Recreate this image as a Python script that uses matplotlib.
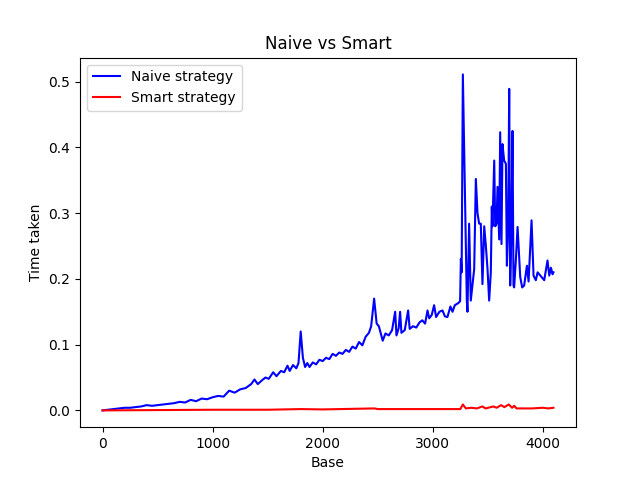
import matplotlib
matplotlib.use("Agg")
import matplotlib.pyplot as plt

naive_base = [0, 50, 100, 150, 200, 250, 300, 350, 400, 450, 500, 550, 600, 650, 700, 750,
              800, 850, 900, 950, 1000, 1050, 1100, 1150, 1200, 1250, 1300, 1350, 1380, 1410,
              1450, 1480, 1510, 1550, 1580, 1620, 1650, 1680, 1700, 1730, 1760, 1780, 1800,
              1820, 1840, 1860, 1880, 1910, 1940, 1970, 2000, 2030, 2060, 2090, 2120, 2150,
              2180, 2210, 2240, 2270, 2300, 2330, 2360, 2390, 2420, 2440, 2467, 2490, 2510,
              2545, 2570, 2600, 2630, 2658, 2670, 2690, 2703, 2715, 2745, 2776, 2790, 2820,
              2850, 2880, 2905, 2930, 2952, 2967, 2990, 3012, 3030, 3060, 3088, 3110, 3133,
              3160, 3179, 3200, 3230, 3248, 3255, 3262, 3273, 3309, 3315, 3330, 3345, 3360,
              3376, 3391, 3406, 3421, 3436, 3451, 3467, 3482, 3497, 3512, 3527, 3536, 3542,
              3558, 3567, 3579, 3588, 3603, 3612, 3624, 3633, 3648, 3664, 3673, 3685, 3694,
              3703, 3715, 3724, 3733, 3739, 3755, 3770, 3794, 3812, 3830, 3855, 3870, 3897,
              3915, 3936, 3952, 3982, 4012, 4042, 4058, 4073, 4088, 4096]
naive_time = [0.000, 0.001, 0.002, 0.003, 0.004, 0.004, 0.005, 0.006, 0.008, 0.007, 0.008,
              0.009, 0.010, 0.011, 0.013, 0.012, 0.016, 0.014, 0.018, 0.017, 0.020, 0.022,
              0.021, 0.030, 0.027, 0.032, 0.034, 0.040, 0.047, 0.040, 0.046, 0.050, 0.048,
              0.058, 0.052, 0.060, 0.058, 0.068, 0.060, 0.069, 0.064, 0.072, 0.120, 0.080,
              0.066, 0.072, 0.066, 0.073, 0.070, 0.077, 0.075, 0.080, 0.078, 0.086, 0.083,
              0.088, 0.086, 0.092, 0.089, 0.097, 0.094, 0.104, 0.099, 0.112, 0.118, 0.128,
              0.170, 0.132, 0.128, 0.106, 0.117, 0.114, 0.122, 0.150, 0.114, 0.125, 0.150,
              0.118, 0.122, 0.152, 0.124, 0.128, 0.126, 0.134, 0.137, 0.132, 0.152, 0.140,
              0.145, 0.160, 0.142, 0.150, 0.152, 0.143, 0.142, 0.158, 0.150, 0.160, 0.163,
              0.166, 0.230, 0.210, 0.511, 0.167, 0.150, 0.284, 0.167, 0.190, 0.215, 0.352,
              0.300, 0.284, 0.284, 0.192, 0.280, 0.250, 0.215, 0.167, 0.210, 0.310, 0.280,
              0.380, 0.280, 0.284, 0.340, 0.260, 0.423, 0.253, 0.405, 0.380, 0.375, 0.220,
              0.280, 0.489, 0.190, 0.280, 0.425, 0.190, 0.187, 0.230, 0.279, 0.203, 0.187,
              0.190, 0.220, 0.196, 0.289, 0.205, 0.198, 0.210, 0.204, 0.198, 0.228, 0.205,
              0.217, 0.207, 0.210]

smart_base = [0, 500, 1000, 1500, 1800, 2000, 2470, 2500, 3000, 3250, 3273, 3300, 3350,
              3400, 3450, 3480, 3550, 3580, 3620, 3650, 3690, 3720, 3740, 3760, 3900,
              4000, 4050, 4096]
smart_time = [0.000, 0.0005, 0.001, 0.001, 0.002, 0.0015, 0.003, 0.002, 0.002, 0.002,
              0.009, 0.003, 0.004, 0.003, 0.006, 0.003, 0.006, 0.004, 0.008, 0.005, 0.009,
              0.004, 0.007, 0.003, 0.003, 0.004, 0.003, 0.004]

fig, ax = plt.subplots(figsize=(6.4, 4.8), dpi=100)
ax.plot(naive_base, naive_time, color="b", label="Naive strategy")
ax.plot(smart_base, smart_time, color="r", label="Smart strategy")
ax.set_title("Naive vs Smart")
ax.set_xlabel("Base")
ax.set_ylabel("Time taken")
ax.legend(loc="upper left")
fig.savefig("out.png")
